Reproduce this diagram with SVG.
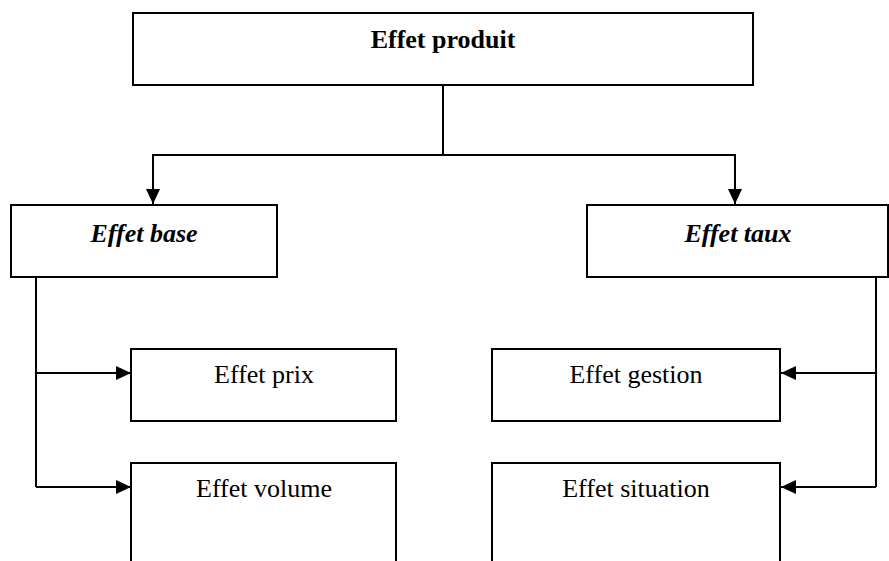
<svg xmlns="http://www.w3.org/2000/svg" width="889" height="561" viewBox="0 0 889 561">
<defs>
<style>
.box{fill:#fff;stroke:#000;stroke-width:2}
.ln{fill:none;stroke:#000;stroke-width:2}
.t{font-family:"Liberation Serif","Times New Roman",serif;font-size:26px;fill:#000;text-anchor:middle}
.b{font-weight:bold}
.i{font-style:italic;font-weight:bold}
</style>
<marker id="ahb" markerWidth="15" markerHeight="14" refX="15" refY="7" orient="auto" markerUnits="userSpaceOnUse" viewBox="0 0 15 14">
<path d="M0,0 L15,7 L0,14 z" fill="#000"/>
</marker>
</defs>
<rect width="889" height="561" fill="#fff"/>
<g id="connectors">
<path class="ln" d="M443,85 V155"/>
<path class="ln" d="M443,155 H153 V204" marker-end="url(#ahb)"/>
<path class="ln" d="M443,155 H735 V204" marker-end="url(#ahb)"/>
<path class="ln" d="M36,277 V487"/>
<path class="ln" d="M36,373 H131" marker-end="url(#ahb)"/>
<path class="ln" d="M36,487 H131" marker-end="url(#ahb)"/>
<path class="ln" d="M876,277 V487"/>
<path class="ln" d="M876,373 H781" marker-end="url(#ahb)"/>
<path class="ln" d="M876,487 H781" marker-end="url(#ahb)"/>
</g>
<g id="n-produit"><rect class="box" x="133" y="13" width="620" height="72"/><text class="t b" x="443" y="48">Effet produit</text></g>
<g id="n-base"><rect class="box" x="11" y="205" width="266" height="72"/><text class="t i" x="144" y="242">Effet base</text></g>
<g id="n-taux"><rect class="box" x="587" y="205" width="301" height="72"/><text class="t i" x="738" y="242">Effet taux</text></g>
<g id="n-prix"><rect class="box" x="131" y="349" width="265" height="72"/><text class="t" x="264" y="383">Effet prix</text></g>
<g id="n-volume"><rect class="box" x="131" y="463" width="265" height="110"/><text class="t" x="264" y="497">Effet volume</text></g>
<g id="n-gestion"><rect class="box" x="492" y="349" width="288" height="72"/><text class="t" x="636" y="383">Effet gestion</text></g>
<g id="n-situation"><rect class="box" x="492" y="463" width="288" height="110"/><text class="t" x="636" y="497">Effet situation</text></g>
</svg>
